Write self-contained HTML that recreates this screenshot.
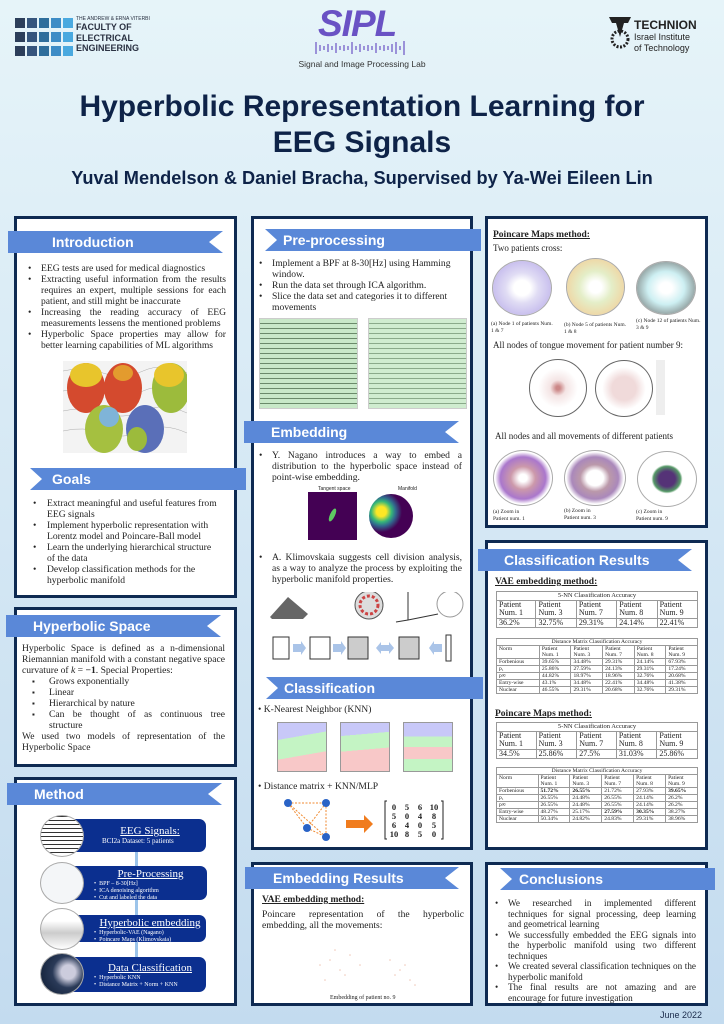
<!DOCTYPE html>
<html><head><meta charset="utf-8"><style>
*{margin:0;padding:0;box-sizing:border-box}
body{width:724px;height:1024px;position:relative;overflow:hidden;background:linear-gradient(180deg,#e6f4f9 0%,#d8eaf5 40%,#c3dbef 100%);font-family:"Liberation Serif",serif;color:#222}
.a{position:absolute}
.panel{position:absolute;background:#fff;border:3px solid #0e2a52}
.ban{position:absolute;background:#5a88d8;color:#fff;font-family:"Liberation Sans",sans-serif;font-weight:bold;font-size:14px;line-height:22px;height:22px}
.nr{clip-path:polygon(0 0,100% 0,calc(100% - 14px) 50%,100% 100%,0 100%)}
.nl{clip-path:polygon(0 0,100% 0,100% 100%,0 100%,12px 50%)}
.t{font-size:9.6px;line-height:11px;text-align:justify}
ul{list-style:none}
ul li{position:relative;padding-left:15px}
ul li:before{content:"•";position:absolute;left:2px}
.sq li:before{content:"▪";font-size:8px}
.h{font-weight:bold;text-decoration:underline;font-size:9.5px}
table{border-collapse:collapse;position:absolute;font-size:5.6px;line-height:6px;background:#fff}
td{border:1px solid #999;padding:0 2px;vertical-align:top}
.big td{font-size:8px;line-height:8.5px}
.mb{position:absolute;background:#0b2f8f;border-radius:7px;color:#fff;font-size:6px;line-height:7px}
.mb b{display:block;font-weight:normal;font-size:11px;line-height:13px;text-decoration:underline;text-align:center}
.circ{position:absolute;border-radius:50%;border:1px solid #aaa;background:#fff}
.arr{position:absolute;width:3px;background:#9cc4ea}
</style></head><body>

<div class="a" style="left:15px;top:18px">
<svg width="60" height="40">
<g fill="#2c3e5a"><rect x="0" y="0" width="10" height="10"/><rect x="0" y="14" width="10" height="10"/><rect x="0" y="28" width="10" height="10"/></g>
<g fill="#36557d"><rect x="12" y="0" width="10" height="10"/><rect x="12" y="14" width="10" height="10"/><rect x="12" y="28" width="10" height="10"/></g>
<g fill="#2f6e9c"><rect x="24" y="0" width="10" height="10"/><rect x="24" y="14" width="10" height="10"/><rect x="24" y="28" width="10" height="10"/></g>
<g fill="#3d8cc6"><rect x="36" y="0" width="10" height="10"/><rect x="36" y="14" width="10" height="10"/><rect x="36" y="28" width="10" height="10"/></g>
<g fill="#4aa9df"><rect x="48" y="0" width="10" height="10"/><rect x="48" y="14" width="10" height="10"/><rect x="48" y="28" width="10" height="10"/></g>
</svg></div>
<div class="a" style="left:76px;top:16px;font-family:'Liberation Sans',sans-serif;color:#2a3142">
<div style="font-size:5px;line-height:6px">THE ANDREW &amp; ERNA VITERBI</div>
<div style="font-size:9px;line-height:10.5px;font-weight:bold">FACULTY OF<br>ELECTRICAL<br>ENGINEERING</div></div>
<div class="a" style="left:318px;top:3px;font-family:'Liberation Sans',sans-serif;font-style:italic;font-weight:bold;font-size:37px;color:#6a52c4;letter-spacing:-1px">SIPL</div>
<svg class="a" style="left:314px;top:40px" width="100" height="16"><g stroke="#6a52c4" stroke-width="1.2">
<line x1="2" y1="2" x2="2" y2="14"/><line x1="6" y1="5" x2="6" y2="11"/><line x1="10" y1="6" x2="10" y2="10"/><line x1="14" y1="4" x2="14" y2="12"/><line x1="18" y1="6" x2="18" y2="10"/><line x1="22" y1="3" x2="22" y2="13"/><line x1="26" y1="6" x2="26" y2="10"/><line x1="30" y1="5" x2="30" y2="11"/><line x1="34" y1="6" x2="34" y2="10"/><line x1="38" y1="2" x2="38" y2="14"/><line x1="42" y1="6" x2="42" y2="10"/><line x1="46" y1="4" x2="46" y2="12"/><line x1="50" y1="6" x2="50" y2="10"/><line x1="54" y1="5" x2="54" y2="11"/><line x1="58" y1="6" x2="58" y2="10"/><line x1="62" y1="3" x2="62" y2="13"/><line x1="66" y1="6" x2="66" y2="10"/><line x1="70" y1="5" x2="70" y2="11"/><line x1="74" y1="6" x2="74" y2="10"/><line x1="78" y1="4" x2="78" y2="12"/><line x1="82" y1="2" x2="82" y2="14"/><line x1="86" y1="6" x2="86" y2="10"/><line x1="90" y1="1" x2="90" y2="15"/></g></svg>
<div class="a" style="left:290px;top:59px;width:144px;text-align:center;font-family:'Liberation Sans',sans-serif;font-size:8.5px;color:#333">Signal and Image Processing Lab</div>
<svg class="a" style="left:607px;top:15px" width="26" height="34"><path d="M2 2 L24 2 L21 8 L17 8 L13 22 L9 8 L5 8 Z" fill="#222"/><circle cx="13" cy="24" r="8" fill="none" stroke="#222" stroke-width="3" stroke-dasharray="2 1.5"/></svg>
<div class="a" style="left:634px;top:19px;font-family:'Liberation Sans',sans-serif;color:#222"><div style="font-size:12px;font-weight:bold;line-height:13px">TECHNION</div><div style="font-size:9px;line-height:11px">Israel Institute<br>of Technology</div></div>

<div class="a" style="left:0;top:89px;width:724px;text-align:center;font-family:'Liberation Sans',sans-serif;font-weight:bold;font-size:30px;line-height:36px;color:#0e2348">Hyperbolic Representation Learning for<br>EEG Signals</div>
<div class="a" style="left:0;top:168px;width:724px;text-align:center;font-family:'Liberation Sans',sans-serif;font-weight:bold;font-size:18.2px;color:#0e2348">Yuval Mendelson &amp; Daniel Bracha, Supervised by Ya-Wei Eileen Lin</div>

<!-- LEFT COLUMN -->
<div class="panel" style="left:14px;top:216px;width:223px;height:382px"></div>
<div class="ban nr" style="left:8px;top:231px;width:215px;padding-left:44px">Introduction</div>
<ul class="a t" style="left:26px;top:263px;width:200px">
<li>EEG tests are used for medical diagnostics</li>
<li>Extracting useful information from the results requires an expert, multiple sessions for each patient, and still might be inaccurate</li>
<li>Increasing the reading accuracy of EEG measurements lessens the mentioned problems</li>
<li>Hyperbolic Space properties may allow for better learning capabilities of ML algorithms</li></ul>
<svg class="a" style="left:63px;top:361px" width="124" height="92">
<rect width="124" height="92" fill="#f3f3f3"/>
<g stroke="#999" stroke-width=".4" fill="none"><path d="M0 10 Q20 5 40 12 T80 10 T124 12"/><path d="M0 30 Q20 25 40 32 T80 30 T124 32"/><path d="M0 50 Q20 45 40 52 T80 50 T124 52"/><path d="M0 70 Q20 65 40 72 T80 70 T124 72"/></g>
<ellipse cx="23" cy="27" rx="19" ry="25" fill="#d44a2e"/><ellipse cx="23" cy="14" rx="16" ry="12" fill="#e8c52c"/>
<ellipse cx="60" cy="27" rx="19" ry="25" fill="#d44a2e"/><ellipse cx="60" cy="12" rx="10" ry="8" fill="#e39b2e"/>
<ellipse cx="108" cy="27" rx="19" ry="25" fill="#9cbb3c"/><ellipse cx="106" cy="14" rx="15" ry="12" fill="#e8c52c"/>
<ellipse cx="41" cy="68" rx="19" ry="24" fill="#a5c040"/><ellipse cx="46" cy="56" rx="10" ry="10" fill="#7fb4d8"/>
<ellipse cx="82" cy="68" rx="19" ry="24" fill="#5a6fb8"/><ellipse cx="74" cy="78" rx="10" ry="12" fill="#9cbb3c"/>
</svg>
<div class="ban nl" style="left:30px;top:468px;width:216px;padding-left:22px">Goals</div>
<ul class="a t" style="left:31px;top:498px;width:190px;text-align:left">
<li style="padding-left:16px">Extract meaningful and useful features from EEG signals</li>
<li style="padding-left:16px">Implement hyperbolic representation with Lorentz model and Poincare-Ball model</li>
<li style="padding-left:16px">Learn the underlying hierarchical structure of the data</li>
<li style="padding-left:16px">Develop classification methods for the hyperbolic manifold</li></ul>

<div class="panel" style="left:14px;top:607px;width:223px;height:160px"></div>
<div class="ban nr" style="left:6px;top:615px;width:215px;padding-left:27px">Hyperbolic Space</div>
<div class="a t" style="left:22px;top:643px;width:203px">Hyperbolic Space is defined as a n-dimensional Riemannian manifold with a constant negative space curvature of <i>k</i> = <b>−1</b>. Special Properties:
<ul class="sq" style="margin-left:8px"><li style="padding-left:19px">Grows exponentially</li><li style="padding-left:19px">Linear</li><li style="padding-left:19px">Hierarchical by nature</li><li style="padding-left:19px">Can be thought of as continuous tree structure</li></ul>
We used two models of representation of the Hyperbolic Space</div>

<div class="panel" style="left:14px;top:777px;width:223px;height:229px"></div>
<div class="ban nr" style="left:7px;top:783px;width:215px;padding-left:27px">Method</div>
<div class="arr" style="left:135px;top:852px;height:14px"></div>
<div class="arr" style="left:135px;top:900px;height:15px"></div>
<div class="arr" style="left:135px;top:942px;height:15px"></div>
<div class="mb" style="left:64px;top:819px;width:142px;height:33px;padding:6px 0 0 30px"><b>EEG Signals:</b><span style="font-size:7px;padding-left:8px">BCI2a Dataset: 5 patients</span></div>
<div class="mb" style="left:64px;top:866px;width:143px;height:34px;padding:2px 0 0 30px"><b>Pre-Processing</b>•&nbsp; BPF – 8-30[Hz]<br>•&nbsp; ICA denoising algorithm<br>•&nbsp; Cut and labeled the data</div>
<div class="mb" style="left:64px;top:915px;width:142px;height:27px;padding:2px 0 0 30px"><b>Hyperbolic embedding</b>•&nbsp; Hyperbolic-VAE (Nagano)<br>•&nbsp; Poincare Maps (Klimovskaia)</div>
<div class="mb" style="left:64px;top:957px;width:142px;height:35px;padding:5px 0 0 30px"><b>Data Classification</b>•&nbsp; Hyperbolic KNN<br>•&nbsp; Distance Matrix + Norm + KNN</div>
<div class="circ" style="left:40px;top:815px;width:44px;height:42px;background:repeating-linear-gradient(0deg,#fff 0 3px,#333 3px 4px)"></div>
<div class="circ" style="left:40px;top:862px;width:44px;height:42px;background:#f4f6f8"></div>
<div class="circ" style="left:40px;top:908px;width:44px;height:42px;background:linear-gradient(180deg,#fff 30%,#ccc 60%,#fff)"></div>
<div class="circ" style="left:40px;top:953px;width:44px;height:42px;background:radial-gradient(circle at 65% 45%,#ccd 0 20%,#2a3a58 45%,#0c1a30)"></div>

<!-- MIDDLE COLUMN -->
<div class="panel" style="left:251px;top:216px;width:222px;height:634px"></div>
<div class="ban nl" style="left:265px;top:229px;width:216px;padding-left:18px">Pre-processing</div>
<ul class="a t" style="left:257px;top:258px;width:200px;text-align:left">
<li>Implement a BPF at 8-30[Hz] using Hamming window.</li>
<li>Run the data set through ICA algorithm.</li>
<li>Slice the data set and categories it to different movements</li></ul>
<div class="a" style="left:259px;top:318px;width:99px;height:91px;background:repeating-linear-gradient(0deg,#c8e8c8 0 4px,#6a8a6a 4px 5px);border:1px solid #ccc"></div>
<div class="a" style="left:368px;top:318px;width:99px;height:91px;background:repeating-linear-gradient(0deg,#cfeccf 0 4px,#8aaa8a 4px 5px);border:1px solid #ccc"></div>
<div class="ban nr" style="left:244px;top:421px;width:215px;padding-left:27px">Embedding</div>
<ul class="a t" style="left:257px;top:450px;width:205px"><li>Y. Nagano introduces a way to embed a distribution to the hyperbolic space instead of point-wise embedding.</li></ul>
<div class="a" style="left:318px;top:486px;font-family:'Liberation Sans';font-size:5px">Tangent space</div>
<div class="a" style="left:398px;top:486px;font-family:'Liberation Sans';font-size:5px">Manifold</div>
<div class="a" style="left:308px;top:492px;width:49px;height:48px;background:#440154"><div style="position:absolute;left:22px;top:16px;width:5px;height:14px;border-radius:50%;background:#5ec962;transform:rotate(25deg)"></div></div>
<div class="a" style="left:369px;top:494px;width:44px;height:44px;border-radius:50%;background:radial-gradient(circle at 28% 40%,#fde725 0 12%,#35b779 25%,#31688e 35%,#440154 50%)"></div>
<ul class="a t" style="left:257px;top:552px;width:205px"><li>A. Klimovskaia suggests cell division analysis, as a way to analyze the process by exploiting the hyperbolic manifold properties.</li></ul>
<svg class="a" style="left:268px;top:592px" width="200" height="80">
<path d="M2 25 L20 5 L40 22 L35 27 L4 27Z" fill="#666"/>
<circle cx="101" cy="13" r="14" fill="#ddd" stroke="#555"/><circle cx="101" cy="13" r="9" fill="none" stroke="#c44" stroke-width="3" stroke-dasharray="3 2"/>
<path d="M140 0 L140 28 L170 22 M140 28 L128 30" stroke="#333" fill="none"/>
<circle cx="182" cy="12" r="13" fill="none" stroke="#999"/>
<g fill="#fff" stroke="#333"><rect x="5" y="45" width="16" height="22"/><rect x="42" y="45" width="20" height="22"/><rect x="80" y="45" width="20" height="22" fill="#ccc"/><rect x="131" y="45" width="20" height="22" fill="#ccc"/><rect x="178" y="43" width="5" height="26"/></g>
<g fill="#aac4e8"><path d="M25 52 l8 0 l0 -3 l5 7 l-5 7 l0 -3 l-8 0z"/><path d="M65 52 l8 0 l0 -3 l5 7 l-5 7 l0 -3 l-8 0z"/><path d="M108 56 l5 -6 v3 h8 v-3 l5 6 l-5 6 v-3 h-8 v3z"/><path d="M174 52 l-8 0 l0 -3 l-5 7 l5 7 l0 -3 l8 0z"/></g>
</svg>
<div class="ban nl" style="left:266px;top:677px;width:217px;padding-left:18px">Classification</div>
<div class="a" style="left:258px;top:704px;font-size:9.6px">• K-Nearest Neighbor (KNN)</div>
<div class="a" style="left:277px;top:722px;width:50px;height:50px;background:linear-gradient(170deg,#c8c8f8 0 30%,#c4f4c4 30% 65%,#f8c8c8 65%);border:1px solid #999"></div>
<div class="a" style="left:340px;top:722px;width:50px;height:50px;background:linear-gradient(175deg,#c8c8f8 0 25%,#c4f4c4 25% 55%,#f8c8c8 55%);border:1px solid #999"></div>
<div class="a" style="left:403px;top:722px;width:50px;height:50px;background:linear-gradient(180deg,#c8c8f8 0 28%,#c4f4c4 28% 50%,#f8c8c8 50% 75%,#c4f4c4 75%);border:1px solid #999"></div>
<div class="a" style="left:258px;top:781px;font-size:9.6px">• Distance matrix + KNN/MLP</div>
<svg class="a" style="left:280px;top:796px" width="170" height="50">
<g stroke="#f08a30" stroke-dasharray="2 1.5" fill="none"><line x1="8" y1="7" x2="46" y2="7"/><line x1="8" y1="7" x2="27" y2="32"/><line x1="8" y1="7" x2="46" y2="41"/><line x1="46" y1="7" x2="27" y2="32"/><line x1="46" y1="7" x2="46" y2="41"/><line x1="27" y1="32" x2="46" y2="41"/></g>
<g fill="#2a63c6"><circle cx="8" cy="7" r="4"/><circle cx="46" cy="7" r="4"/><circle cx="27" cy="32" r="4"/><circle cx="46" cy="41" r="4"/></g>
<path d="M66 24 h18 v-5 l9 9 l-9 9 v-5 h-18z" fill="#f07c1e"/>
<g font-family="Liberation Serif" font-size="8.5" font-weight="bold" fill="#222" text-anchor="middle">
<text x="114" y="14">0</text><text x="127" y="14">5</text><text x="140" y="14">6</text><text x="154" y="14">10</text>
<text x="114" y="23">5</text><text x="127" y="23">0</text><text x="140" y="23">4</text><text x="154" y="23">8</text>
<text x="114" y="32">6</text><text x="127" y="32">4</text><text x="140" y="32">0</text><text x="154" y="32">5</text>
<text x="114" y="41">10</text><text x="127" y="41">8</text><text x="140" y="41">5</text><text x="154" y="41">0</text></g>
<path d="M107 5 h-2 v38 h2 M161 5 h2 v38 h-2" stroke="#222" fill="none"/>
</svg>

<div class="panel" style="left:251px;top:862px;width:222px;height:144px"></div>
<div class="ban nr" style="left:245px;top:867px;width:214px;padding-left:28px">Embedding Results</div>
<div class="a h" style="left:262px;top:895px">VAE embedding method:</div>
<div class="a t" style="left:262px;top:909px;width:202px">Poincare representation of the hyperbolic embedding, all the movements:</div>
<svg class="a" style="left:300px;top:935px" width="130" height="60"><g fill="#e8b09a" opacity=".7">
<circle cx="20" cy="30" r=".8"/><circle cx="30" cy="25" r=".8"/><circle cx="40" cy="35" r=".8"/><circle cx="25" cy="45" r=".8"/><circle cx="50" cy="20" r=".8"/><circle cx="45" cy="40" r=".8"/><circle cx="35" cy="15" r=".8"/><circle cx="60" cy="30" r=".8"/><circle cx="90" cy="25" r=".8"/><circle cx="100" cy="35" r=".8"/><circle cx="110" cy="45" r=".8"/><circle cx="95" cy="40" r=".8"/><circle cx="105" cy="30" r=".8"/><circle cx="115" cy="50" r=".8"/></g></svg>
<div class="a" style="left:330px;top:995px;font-size:6px">Embedding of patient no. 9</div>

<!-- RIGHT COLUMN -->
<div class="panel" style="left:485px;top:216px;width:223px;height:312px"></div>
<div class="a h" style="left:493px;top:230px">Poincare Maps method:</div>
<div class="a" style="left:493px;top:243px;font-size:9px">Two patients cross:</div>
<div class="circ" style="left:492px;top:260px;width:60px;height:56px;background:radial-gradient(#fff 20%,#e0dcf4 40%,#c9c0ee 70%,#fff 72%)"></div>
<div class="circ" style="left:566px;top:258px;width:59px;height:58px;background:radial-gradient(#fff 15%,#e4eec8 40%,#eed9a8 70%,#fff 72%)"></div>
<div class="circ" style="left:636px;top:261px;width:60px;height:54px;background:radial-gradient(#fff 15%,#cdeff2 45%,#9aa 70%,#fff 72%)"></div>
<div class="a" style="left:491px;top:321px;font-size:5.5px;line-height:6.5px;width:65px">(a) Node 1 of patients Num. 1 &amp; 7</div>
<div class="a" style="left:564px;top:322px;font-size:5.5px;line-height:6.5px;width:65px">(b) Node 5 of patients Num. 1 &amp; 8</div>
<div class="a" style="left:636px;top:318px;font-size:5.5px;line-height:6.5px;width:65px">(c) Node 12 of patients Num. 3 &amp; 9</div>
<div class="a" style="left:493px;top:340px;font-size:9px">All nodes of tongue movement for patient number 9:</div>
<div class="circ" style="left:529px;top:359px;width:58px;height:58px;background:radial-gradient(#c88 0 5%,#f4e4e4 20%,#fff 50%);border-color:#666"></div>
<div class="circ" style="left:595px;top:360px;width:58px;height:57px;background:radial-gradient(#f0dada 0 30%,#fff 55%);border-color:#666"></div>
<div class="a" style="left:656px;top:360px;width:9px;height:55px;background:#eee"></div>
<div class="a" style="left:495px;top:431px;font-size:9px">All nodes and all movements of different patients</div>
<div class="circ" style="left:493px;top:450px;width:60px;height:56px;background:radial-gradient(#fff 10%,#c9a 30%,#a7c 55%,#fff 68%)"></div>
<div class="circ" style="left:564px;top:450px;width:62px;height:56px;background:radial-gradient(#fff 20%,#b9a 35%,#a8b 55%,#fff 68%)"></div>
<div class="circ" style="left:637px;top:451px;width:60px;height:56px;background:radial-gradient(#537 0 20%,#596 33%,#fff 38%)"></div>
<div class="a" style="left:493px;top:509px;font-size:5.5px;line-height:7px">(a) Zoom in<br>Patient num. 1</div>
<div class="a" style="left:564px;top:508px;font-size:5.5px;line-height:7px">(b) Zoom in<br>Patient num. 3</div>
<div class="a" style="left:636px;top:509px;font-size:5.5px;line-height:7px">(c) Zoom in<br>Patient num. 9</div>

<div class="panel" style="left:485px;top:540px;width:223px;height:310px"></div>
<div class="ban nr" style="left:478px;top:549px;width:214px;padding-left:26px">Classification Results</div>
<div class="a h" style="left:495px;top:577px">VAE embedding method:</div>
<table class="big" style="left:496px;top:591px;width:202px">
<tr><td colspan="5" style="text-align:center;font-size:6.5px;line-height:7.5px">5-NN Classification Accuracy</td></tr>
<tr><td>Patient<br>Num. 1</td><td>Patient<br>Num. 3</td><td>Patient<br>Num. 7</td><td>Patient<br>Num. 8</td><td>Patient<br>Num. 9</td></tr>
<tr><td>36.2%</td><td>32.75%</td><td>29.31%</td><td>24.14%</td><td>22.41%</td></tr></table>
<table style="left:496px;top:638px;width:202px">
<tr><td colspan="6" style="text-align:center">Distance Matrix Classification Accuracy</td></tr>
<tr><td>Norm</td><td>Patient<br>Num. 1</td><td>Patient<br>Num. 3</td><td>Patient<br>Num. 7</td><td>Patient<br>Num. 8</td><td>Patient<br>Num. 9</td></tr>
<tr><td>Forbenious</td><td>39.65%</td><td>34.48%</td><td>29.31%</td><td>24.14%</td><td>67.93%</td></tr>
<tr><td>p₁</td><td>25.86%</td><td>27.59%</td><td>24.13%</td><td>29.31%</td><td>17.24%</td></tr>
<tr><td>p∞</td><td>44.82%</td><td>18.97%</td><td>18.96%</td><td>32.76%</td><td>20.68%</td></tr>
<tr><td>Entry-wise</td><td>43.1%</td><td>34.48%</td><td>22.41%</td><td>34.48%</td><td>41.38%</td></tr>
<tr><td>Nuclear</td><td>46.55%</td><td>29.31%</td><td>20.68%</td><td>32.76%</td><td>29.31%</td></tr></table>
<div class="a h" style="left:495px;top:709px">Poincare Maps method:</div>
<table class="big" style="left:496px;top:722px;width:202px">
<tr><td colspan="5" style="text-align:center;font-size:6.5px;line-height:7.5px">5-NN Classification Accuracy</td></tr>
<tr><td>Patient<br>Num. 1</td><td>Patient<br>Num. 3</td><td>Patient<br>Num. 7</td><td>Patient<br>Num. 8</td><td>Patient<br>Num. 9</td></tr>
<tr><td>34.5%</td><td>25.86%</td><td>27.5%</td><td>31.03%</td><td>25.86%</td></tr></table>
<table style="left:496px;top:767px;width:202px">
<tr><td colspan="6" style="text-align:center">Distance Matrix Classification Accuracy</td></tr>
<tr><td>Norm</td><td>Patient<br>Num. 1</td><td>Patient<br>Num. 3</td><td>Patient<br>Num. 7</td><td>Patient<br>Num. 8</td><td>Patient<br>Num. 9</td></tr>
<tr><td>Forbenious</td><td><b>51.72%</b></td><td><b>26.55%</b></td><td>21.72%</td><td>27.93%</td><td><b>39.65%</b></td></tr>
<tr><td>p₁</td><td>26.55%</td><td>24.48%</td><td>26.55%</td><td>24.14%</td><td>26.2%</td></tr>
<tr><td>p∞</td><td>26.55%</td><td>24.48%</td><td>26.55%</td><td>24.14%</td><td>26.2%</td></tr>
<tr><td>Entry-wise</td><td>48.27%</td><td>25.17%</td><td><b>27.59%</b></td><td><b>30.35%</b></td><td>38.27%</td></tr>
<tr><td>Nuclear</td><td>50.34%</td><td>24.82%</td><td>24.83%</td><td>29.31%</td><td>38.96%</td></tr></table>

<div class="panel" style="left:485px;top:862px;width:223px;height:144px"></div>
<div class="ban nl" style="left:500px;top:868px;width:215px;padding-left:19px">Conclusions</div>
<ul class="a t" style="left:493px;top:898px;width:203px;font-size:9.2px;line-height:10.5px">
<li style="padding-left:15px">We researched in implemented different techniques for signal processing, deep learning and geometrical learning</li>
<li style="padding-left:15px">We successfully embedded the EEG signals into the hyperbolic manifold using two different techniques</li>
<li style="padding-left:15px">We created several classification techniques on the hyperbolic manifold</li>
<li style="padding-left:15px">The final results are not amazing and are encourage for future investigation</li></ul>

<div class="a" style="left:660px;top:1010px;font-family:'Liberation Sans',sans-serif;font-size:9px;color:#1a2a4a">June 2022</div>
</body></html>
